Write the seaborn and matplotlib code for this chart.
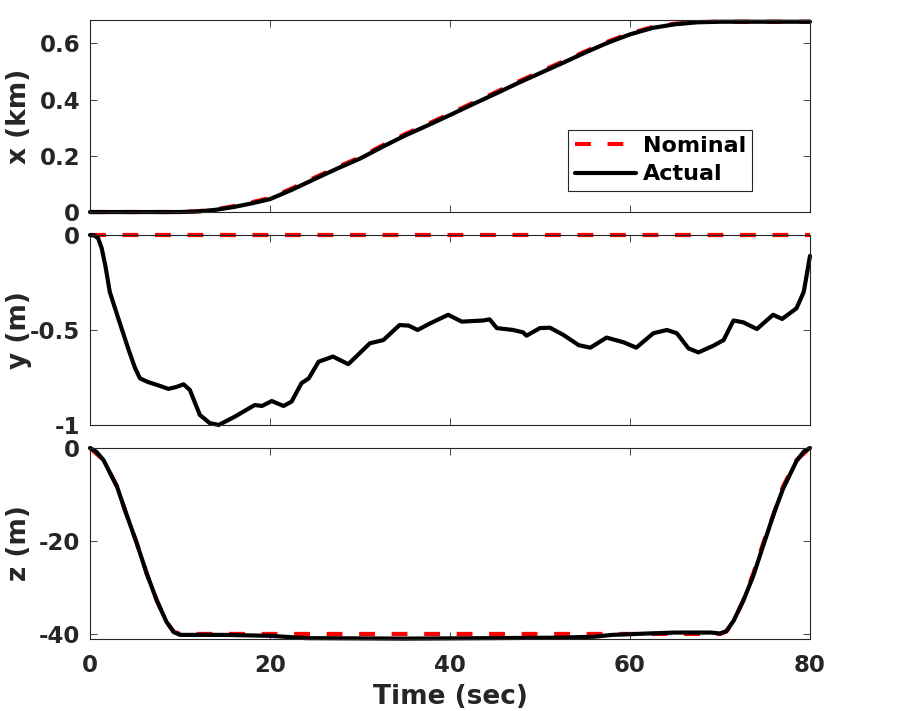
import numpy as np
import pandas as pd
import matplotlib
matplotlib.use("Agg")
import matplotlib.pyplot as plt
import seaborn as sns

# x position (km)
t_x = [0, 5, 10, 12, 14, 16, 18, 20, 22.5, 25, 27.5, 30, 32.5, 35, 37.5, 40,
       42.5, 45, 47.5, 50, 52.5, 55, 57.5, 60, 62.5, 65, 67.5, 70, 75, 80]
x_nominal = [0, 0, 0, 0.003, 0.010, 0.021, 0.035, 0.050, 0.085, 0.123, 0.160,
             0.195, 0.237, 0.277, 0.313, 0.350, 0.388, 0.425, 0.463, 0.499,
             0.535, 0.571, 0.606, 0.636, 0.658, 0.670, 0.676, 0.677, 0.677, 0.677]
x_actual = [0, 0, 0, 0.002, 0.008, 0.018, 0.031, 0.046, 0.080, 0.118, 0.155,
            0.190, 0.232, 0.272, 0.308, 0.345, 0.383, 0.420, 0.458, 0.494,
            0.530, 0.567, 0.602, 0.632, 0.655, 0.668, 0.675, 0.677, 0.677, 0.677]

# y position (m)
t_y_nom = [0, 80]
y_nominal = [0, 0]
t_y = [0, 0.5, 0.9, 1.3, 1.7, 2.2, 3.15, 4.26, 5.0, 5.56, 6.5, 7.5, 8.7, 9.6,
       10.4, 11.1, 12.2, 13.3, 14.3, 16.1, 18.3, 19.1, 20.2, 21.5, 22.4, 23.5,
       24.3, 25.4, 27.0, 28.7, 31.1, 32.6, 34.4, 35.4, 36.4, 37.8, 39.8, 41.3,
       43.7, 44.4, 45.2, 47.0, 48.1, 48.5, 50.0, 51.1, 52.6, 54.3, 55.6, 57.4,
       59.3, 60.7, 62.6, 64.1, 65.2, 66.5, 67.6, 69.3, 70.4, 71.5, 72.6, 74.1,
       75.9, 76.9, 78.5, 79.3, 79.6, 80]
y_actual = [0, -0.003, -0.017, -0.07, -0.16, -0.30, -0.44, -0.60, -0.70, -0.755,
            -0.775, -0.79, -0.81, -0.80, -0.786, -0.816, -0.947, -0.99, -1.0,
            -0.956, -0.895, -0.90, -0.874, -0.90, -0.877, -0.78, -0.755, -0.667,
            -0.64, -0.68, -0.57, -0.553, -0.474, -0.477, -0.50, -0.465, -0.42,
            -0.456, -0.45, -0.444, -0.49, -0.50, -0.512, -0.53, -0.49, -0.488,
            -0.526, -0.58, -0.593, -0.54, -0.565, -0.593, -0.517, -0.50, -0.517,
            -0.597, -0.618, -0.582, -0.553, -0.45, -0.46, -0.495, -0.42, -0.442,
            -0.386, -0.30, -0.22, -0.11]

# z position (m)
t_z_nom = [0, 1.5, 3, 4, 5.2, 6.3, 7.4, 8.5, 9.3, 10, 70, 70.7, 71.5, 72.6,
           73.7, 74.8, 76, 77, 78.5, 80]
z_nominal = [0, -2.6, -8.3, -14, -20.5, -27, -32.7, -37.4, -39.5, -40, -40,
             -39.5, -37.4, -32.7, -27, -20.5, -14, -8.3, -2.6, 0]
t_z = [0, 0.7, 1.5, 3, 4, 5.2, 6.3, 7.4, 8.5, 9.3, 10, 15, 20, 24, 35, 45, 52,
       56, 58, 62, 65, 69, 70, 70.7, 71.5, 72.6, 73.7, 74.8, 76, 77, 78.5, 79.3, 80]
z_actual = [0, -0.8, -2.6, -8.3, -14, -20.5, -27, -32.7, -37.4, -39.6, -40.2,
            -40.2, -40.4, -40.9, -41.0, -40.9, -40.8, -40.6, -40.2, -39.9,
            -39.7, -39.7, -39.9, -39.4, -37.2, -32.8, -27.5, -21, -14, -8.8,
            -2.8, -0.8, 0]

sns.set_style("ticks")
plt.rcParams['font.family'] = ['DejaVu Sans']
plt.rcParams['font.weight'] = 'bold'
plt.rcParams['axes.labelweight'] = 'bold'
plt.rcParams['axes.unicode_minus'] = False

dark = '#262626'
lw = 3.0
dash = (3.8, 4.0)

fig = plt.figure(figsize=(9, 7.11), dpi=100)
ax1 = fig.add_axes([0.1, 0.7018, 0.8, 0.2700])
ax2 = fig.add_axes([0.1, 0.4023, 0.8, 0.2672])
ax3 = fig.add_axes([0.1, 0.1013, 0.8, 0.2686])

panels = [
    (ax1, t_x, x_nominal, t_x, x_actual, 'x (km)', (0, 0.683), [0, 0.2, 0.4, 0.6], ['0', '0.2', '0.4', '0.6']),
    (ax2, t_y_nom, y_nominal, t_y, y_actual, 'y (m)', (-1, 0), [-1, -0.5, 0], ['-1', '-0.5', '0']),
    (ax3, t_z_nom, z_nominal, t_z, z_actual, 'z (m)', (-41.08, 0), [-40, -20, 0], ['-40', '-20', '0']),
]

for ax, tn, vn, ta, va, lab, ylim, yt, ytl in panels:
    sns.lineplot(x=tn, y=vn, ax=ax, color='red', lw=lw, estimator=None,
                 label='Nominal', legend=False)
    ax.lines[-1].set_dashes(dash)
    sns.lineplot(x=ta, y=va, ax=ax, color='black', lw=lw, estimator=None,
                 label='Actual', legend=False)
    for ln in ax.lines:
        ln.set_clip_on(False)
        ln.set_solid_joinstyle('round')
    ax.set_xlim(0, 80)
    ax.set_ylim(*ylim)
    ax.set_yticks(yt)
    ax.set_yticklabels(ytl)
    ax.set_xticks([0, 20, 40, 60, 80])
    ax.set_ylabel(lab, fontsize=19, fontweight='bold', color=dark)
    ax.yaxis.set_label_coords(-0.08, 0.5)
    for s in ax.spines.values():
        s.set_visible(True)
        s.set_linewidth(0.8)
        s.set_color(dark)
    ax.tick_params(direction='in', length=5, width=0.6, top=True, right=True,
                   colors=dark, labelsize=16.5, pad=7)
    ax.tick_params(axis='x', pad=11)

ax1.tick_params(labelbottom=False)
ax2.tick_params(labelbottom=False)
ax3.set_xlabel('Time (sec)', fontsize=19, fontweight='bold', color=dark, labelpad=5)
for lbl in ax3.get_xticklabels() + ax3.get_yticklabels() + ax1.get_yticklabels() + ax2.get_yticklabels():
    lbl.set_fontweight('bold')

h, l = ax1.get_legend_handles_labels()
leg = ax1.legend(h, l, loc='lower left', bbox_to_anchor=(0.664, 0.109),
                 borderaxespad=0, fontsize=16, handlelength=2.75,
                 handletextpad=0.3, labelspacing=0.37, borderpad=0.3,
                 fancybox=False, framealpha=1, edgecolor=dark)
leg.get_frame().set_linewidth(0.8)
for txt in leg.get_texts():
    txt.set_fontweight('bold')
    txt.set_color('black')

fig.savefig('out.png', dpi=100)
